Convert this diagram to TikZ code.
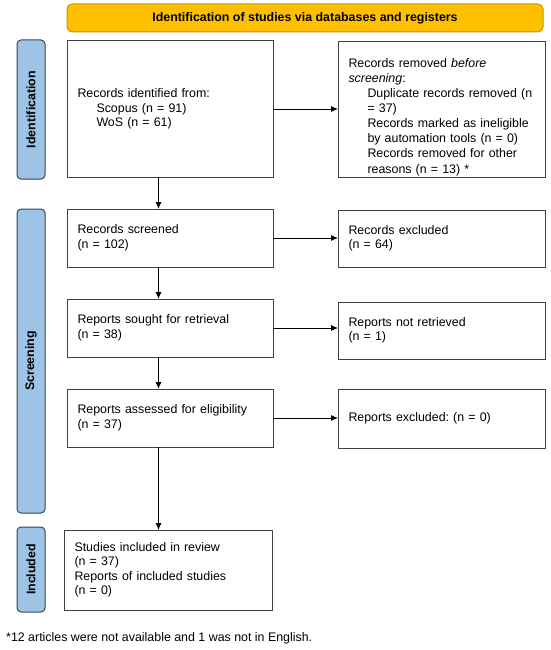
\documentclass[tikz,border=0pt]{standalone}
\usepackage{fontspec}
\setmainfont{Liberation Sans}
\usetikzlibrary{arrows.meta}
\definecolor{bannerfill}{HTML}{FFC000}
\definecolor{bannerdraw}{HTML}{C99700}
\definecolor{phasefill}{HTML}{9DC3E6}
\definecolor{phasedraw}{HTML}{3A4656}
\definecolor{boxdraw}{HTML}{404040}
\newcommand{\bodysize}{\fontsize{12.4}{14.5}\selectfont\frenchspacing}
\newcommand{\widesize}{\fontsize{12.4}{15.1}\selectfont\frenchspacing}
\newcommand{\ind}{\hspace*{19pt}}
\begin{document}
\begin{tikzpicture}[x=1pt,y=-1pt,
  box/.style={draw=boxdraw, line width=1pt, inner xsep=10.5pt, inner ysep=0pt, outer sep=0pt, align=left, font=\bodysize, anchor=center},
  phase/.style={draw=phasedraw, fill=phasefill, line width=1pt, rounded corners=4pt, rotate=90, font=\bodysize\bfseries, inner sep=0pt, minimum height=28pt, outer sep=0pt},
  banner/.style={draw=bannerdraw, fill=bannerfill, line width=1pt, rounded corners=5pt, font=\bodysize\bfseries, inner sep=0pt, minimum width=476pt, minimum height=28pt},
  arr/.style={-{Latex[length=7pt,width=6pt]}, line width=0.9pt, black}]
\useasboundingbox (0,0) rectangle (550,650);

\node[banner] (ban) at (305,18) {Identification of studies via databases and registers};

\node[phase, minimum width=139pt] (pid) at (31,109.5) {Identification};
\node[phase, minimum width=304pt] (psc) at (31,361) {Screening};
\node[phase, minimum width=85pt] (pin) at (31,569.5) {Included};

\node[box, text width=185pt, minimum height=136pt] (rid) at (170,109) {Records identified from:\\\ind Scopus (n = 91)\\\ind WoS (n = 61)};
\node[box, font=\widesize, text width=186pt, minimum height=135pt] (rrm) at (441.5,109.5) {\rule{0pt}{24pt}Records removed \textit{before}\\\textit{screening}:\\\ind Duplicate records removed (n\\\ind = 37)\\\ind Records marked as ineligible\\\ind by automation tools (n = 0)\\\ind Records removed for other\\\ind reasons (n = 13) *};

\node[box, text width=185pt, minimum height=58pt] (rsc) at (170,238) {Records screened\\(n = 102)};
\node[box, text width=186pt, minimum height=57pt] (rex) at (441.5,238.5) {Records excluded\\(n = 64)};

\node[box, text width=185pt, minimum height=58pt] (rso) at (170,328) {Reports sought for retrieval\\(n = 38)};
\node[box, text width=186pt, minimum height=57pt] (rnr) at (441.5,330.5) {Reports not retrieved\\(n = 1)};

\node[box, text width=185pt, minimum height=58pt] (ras) at (170,418) {Reports assessed for eligibility\\(n = 37)};
\node[box, text width=186pt, minimum height=59pt] (rre) at (441.5,418.5) {Reports excluded: (n = 0)};

\node[box, text width=187pt, minimum height=80pt] (stu) at (168,570) {Studies included in review\\(n = 37)\\Reports of included studies\\(n = 0)};

\node[anchor=base west, inner sep=0pt, font=\bodysize] (foot) at (6,641) {*12 articles were not available and 1 was not in English.};

\coordinate (cx) at (158.5,0);

\draw[arr] (rid.south -| cx) -- (rsc.north -| cx);
\draw[arr] (rsc.south -| cx) -- (rso.north -| cx);
\draw[arr] (rso.south -| cx) -- (ras.north -| cx);
\draw[arr] (ras.south -| cx) -- (stu.north -| cx);

\draw[arr] (rid.east) -- (rid.east -| rrm.west);
\draw[arr] (rsc.east) -- (rsc.east -| rex.west);
\draw[arr] (rso.east) -- (rso.east -| rnr.west);
\draw[arr] (ras.east) -- (ras.east -| rre.west);
\end{tikzpicture}
\end{document}
